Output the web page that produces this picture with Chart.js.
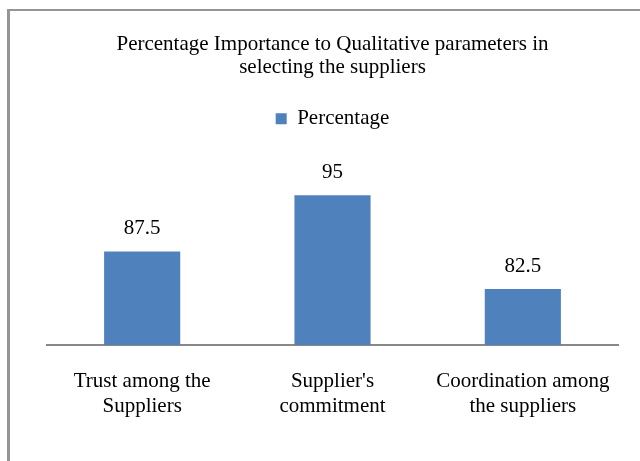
<!DOCTYPE html>
<html>
<head>
<meta charset="utf-8">
<script src="https://cdn.jsdelivr.net/npm/chart.js@4.4.1/dist/chart.umd.min.js"></script>
<style>
  html, body { margin: 0; padding: 0; background: #fff; }
  #wrap { position: relative; width: 640px; height: 461px; overflow: hidden; }
  #frame { position: absolute; left: 7px; top: 9px; width: 700px; height: 500px;
           border-left: 3px solid #959595; border-top: 2px solid #959595; box-sizing: border-box; }
  canvas { position: absolute; left: 0; top: 0; }
</style>
</head>
<body>
<div id="wrap">
  <div id="frame"></div>
  <canvas id="c" width="640" height="461"></canvas>
</div>
<script>
const categories = [["Trust among the", "Suppliers"], ["Supplier's", "commitment"], ["Coordination among", "the suppliers"]];
const seriesName = "Percentage";
const percentage = [87.5, 95, 82.5];
const titleLines = ["Percentage Importance to Qualitative parameters in", "selecting the suppliers"];

const FONT = "'Liberation Serif', 'Times New Roman', serif";

const valueLabels = {
  id: 'valueLabels',
  afterDatasetsDraw(chart) {
    const ctx = chart.ctx;
    const meta = chart.getDatasetMeta(0);
    ctx.save();
    ctx.font = "21px " + FONT;
    ctx.fillStyle = "#000";
    ctx.textAlign = "center";
    ctx.textBaseline = "alphabetic";
    meta.data.forEach((bar, i) => {
      ctx.fillText(String(chart.data.datasets[0].data[i]), bar.x, bar.y - 17);
    });
    ctx.restore();
  }
};

new Chart(document.getElementById('c'), {
  type: 'bar',
  data: {
    labels: categories,
    datasets: [{
      label: seriesName,
      data: percentage,
      backgroundColor: '#4f81bd',
      borderWidth: 0,
      barPercentage: 0.4,
      categoryPercentage: 1.0
    }]
  },
  options: {
    responsive: false,
    animation: false,
    layout: { padding: { left: 47, right: 22, top: 33, bottom: 18 } },
    plugins: {
      title: {
        display: true,
        text: titleLines,
        color: '#000',
        font: { family: FONT, size: 21, weight: 'normal', lineHeight: 1.1 },
        padding: { top: 0, bottom: 19 }
      },
      legend: {
        display: true,
        labels: {
          color: '#000',
          font: { family: FONT, size: 21 },
          boxWidth: 11,
          boxHeight: 11,
          padding: 10
        }
      },
      tooltip: { enabled: false }
    },
    scales: {
      x: {
        grid: { display: false, drawTicks: false },
        border: { display: true, color: '#888888', width: 2 },
        ticks: {
          color: '#000',
          font: { family: FONT, size: 21, lineHeight: 1.19 },
          padding: 24,
          maxRotation: 0,
          autoSkip: false
        }
      },
      y: {
        display: false,
        min: 75,
        max: 102.5
      }
    }
  },
  plugins: [valueLabels]
});
</script>
</body>
</html>
